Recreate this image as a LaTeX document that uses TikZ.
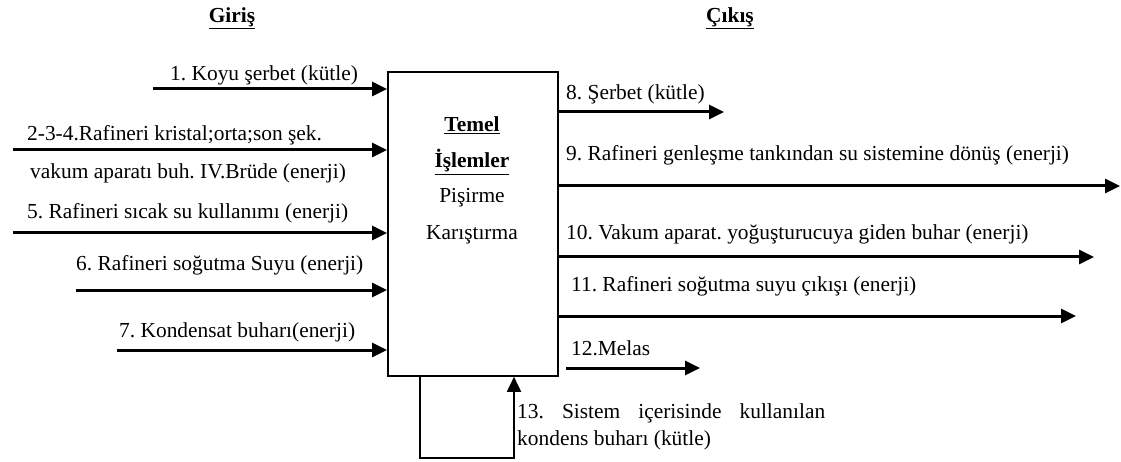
\documentclass[tikz,border=0pt]{standalone}
\usepackage{fontspec}
\setmainfont{Liberation Serif}
\usetikzlibrary{arrows.meta}
\begin{document}
\frenchspacing
\begin{tikzpicture}[x=1pt,y=-1pt,
  lbl/.style={inner sep=0pt,anchor=west,font=\fontsize{21.4}{25}\selectfont},
  ttl/.style={inner sep=0pt,font=\fontsize{21.4}{25}\selectfont\bfseries},
  boxtxt/.style={inner sep=0pt,font=\fontsize{21.4}{25}\selectfont},
  flow/.style={line width=3pt,-{Triangle[length=15pt,width=14pt]}}]
\useasboundingbox (0,0) rectangle (1121,462);

% titles
\node[ttl] (giris) at (232,18) {\underline{Giriş}};
\node[ttl] (cikis) at (730,18) {\underline{Çıkış}};

% process box
\node[draw,line width=1.8pt,minimum width=170pt,minimum height=304pt,inner sep=0pt,anchor=north west] (box) at (387,71) {};
\node[ttl] (b1) at (472,125) {\underline{Temel}};
\node[ttl] (b2) at (472,162) {\underline{İşlemler}};
\node[boxtxt] (b3) at (472,198) {Pişirme};
\node[boxtxt] (b4) at (472,235) {Karıştırma};

% inputs
\coordinate (i1) at (153,89);
\coordinate (i2) at (13,150);
\coordinate (i5) at (13,233);
\coordinate (i6) at (76,290);
\coordinate (i7) at (117,350);
\foreach \c in {i1,i2,i5,i6,i7}
  \draw[flow] (\c) -- (\c -| box.west);

\node[lbl] (t1) at (170,75) {1. Koyu şerbet (kütle)};
\node[lbl] (t2a) at (27,135) {2-3-4.Rafineri kristal;orta;son şek.};
\node[lbl] (t2b) at (30,173) {vakum aparatı buh. IV.Brüde (enerji)};
\node[lbl] (t5) at (27,213) {5. Rafineri sıcak su kullanımı (enerji)};
\node[lbl] (t6) at (76,265) {6. Rafineri soğutma Suyu (enerji)};
\node[lbl] (t7) at (119,332) {7. Kondensat buharı(enerji)};

% outputs
\coordinate (o8) at (724,112);
\coordinate (o9) at (1120,186);
\coordinate (o10) at (1094,257);
\coordinate (o11) at (1076,316);
\foreach \c in {o8,o9,o10,o11}
  \draw[flow] (box.east |- \c) -- (\c);
\coordinate (m0) at (566,368);
\coordinate (m1) at (700,368);
\draw[flow] (m0) -- (m1);

\node[lbl] (t8) at (566,94) {8. Şerbet (kütle)};
\node[lbl] (t9) at (566,155) {9. Rafineri genleşme tankından su sistemine dönüş (enerji)};
\node[lbl] (t10) at (566,234) {10. Vakum aparat. yoğuşturucuya giden buhar (enerji)};
\node[lbl] (t11) at (571,286) {11. Rafineri soğutma suyu çıkışı (enerji)};
\node[lbl] (t12) at (571,348) {12.Melas};

% internal recycle loop
\coordinate (r0) at (420,375);
\coordinate (r1) at (420,458);
\coordinate (r2) at (514,458);
\draw[flow,line width=1.8pt] (r0) -- (r1) -- (r2) -- (r2 |- box.south);

\node[lbl] (t13a) at (517,413) {\makebox[308pt][s]{13. Sistem içerisinde kullanılan}};
\node[lbl] (t13b) at (517,440) {kondens buharı (kütle)};
\end{tikzpicture}
\end{document}
